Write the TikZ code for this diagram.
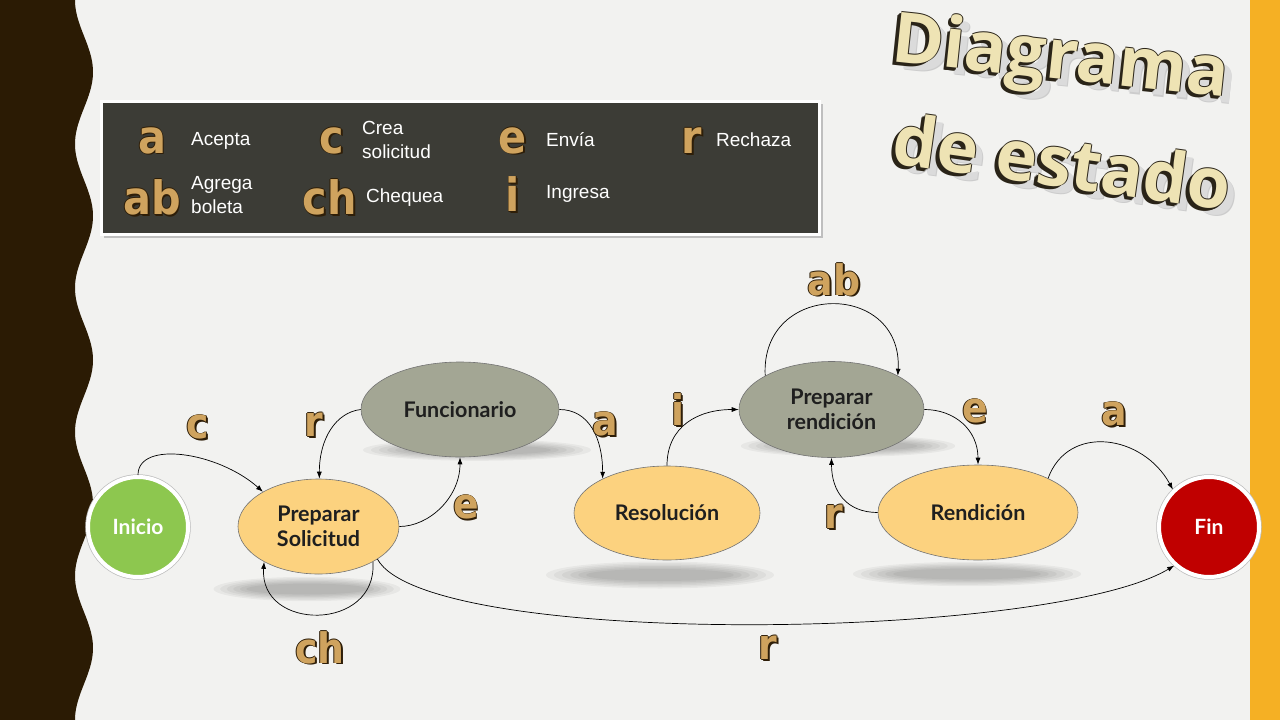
\documentclass[tikz,border=0pt]{standalone}
\usepackage{fontspec}
\setmainfont{Liberation Sans}
\newfontfamily\nodefont{Lato}
\newfontfamily\lblfont{DejaVu Sans}[FakeStretch=0.9]
\newfontfamily\titlefont{Open Sans}
\usetikzlibrary{shapes.geometric,arrows.meta}
\definecolor{bg}{HTML}{F2F2F0}
\definecolor{band}{HTML}{2B1B04}
\definecolor{orangeband}{HTML}{F5B024}
\definecolor{legbg}{HTML}{3C3C36}
\definecolor{gold}{HTML}{FCD27F}
\definecolor{sage}{HTML}{A3A694}
\definecolor{green1}{HTML}{8DC74F}
\definecolor{red1}{HTML}{C00000}
\definecolor{lbldark}{HTML}{2E1E08}
\definecolor{lblgold}{HTML}{CFA35E}
\definecolor{titleface}{HTML}{EEE3B4}
\definecolor{titleedge}{HTML}{2A2418}

\newcommand\glyphlbl[1]{%
 \leavevmode
 \rlap{\kern1.8pt\raisebox{-1.8pt}{\color{lbldark}#1}}%
 \rlap{\kern-0.8pt\color{lbldark}#1}%
 \rlap{\kern0.8pt\color{lbldark}#1}%
 \rlap{\raisebox{0.8pt}{\color{lbldark}#1}}%
 \rlap{\raisebox{-0.8pt}{\color{lbldark}#1}}%
 {\color{lblgold}#1}}

\newcommand\titletext[1]{%
 \leavevmode
 \rlap{\kern9pt\raisebox{-7pt}{\color{black!20}#1}}%
 \rlap{\kern8pt\raisebox{-6pt}{\color{black!14}#1}}%
 \rlap{\kern-3pt\raisebox{-3.5pt}{\color{titleedge}#1}}%
 \rlap{\kern-2pt\raisebox{-2.5pt}{\color{titleedge}#1}}%
 \rlap{\kern-1pt\raisebox{-1.5pt}{\color{titleedge}#1}}%
 \rlap{\kern1pt\color{titleedge}#1}%
 \rlap{\raisebox{1pt}{\color{titleedge}#1}}%
 {\color{titleface}#1}}

\newcommand\softshadow[3]{%
 \foreach \k in {1,...,6}{%
  \fill[black, opacity=0.045] (#1) ellipse ({#2*(1.22-0.08*\k)} and {#3*(1.5-0.15*\k)});}}

\begin{document}
\begin{tikzpicture}[x=1pt,y=-1pt,
  every node/.style={inner sep=0pt},
  statebox/.style={ellipse, draw=black!55, line width=0.6pt, inner sep=0pt,
    font=\nodefont\bfseries\fontsize{21.5}{25}\selectfont, text=black!88, align=center},
  goldstate/.style={statebox, fill=gold},
  sagestate/.style={statebox, fill=sage},
  endstate/.style={circle, minimum size=100pt, fill=#1, draw=white, line width=4pt,
    preaction={draw=black!25, line width=5.5pt},
    font=\nodefont\bfseries\fontsize{21}{23}\selectfont, text=white},
  lbl/.style={font=\lblfont\bfseries\fontsize{42}{42}\selectfont},
  leglbl/.style={font=\lblfont\bfseries\fontsize{46}{46}\selectfont},
  legtext/.style={anchor=west, text=white, font=\fontsize{19}{24}\selectfont, align=left},
  trans/.style={draw=black, line width=0.7pt, -{Latex[length=7pt,width=5pt]}},
  titlestyle/.style={font=\titlefont\bfseries\fontsize{70}{70}\selectfont},
]
\useasboundingbox (0,0) rectangle (1280,720);
\fill[bg] (0,0) rectangle (1280,720);
% left wavy band
\fill[band] (0,0) -- plot[domain=0:720, samples=145, smooth] ({84-9*cos(2.5*\x)}, {\x}) -- (0,720) -- cycle;
% right band
\fill[orangeband] (1250,0) rectangle (1280,720);

% legend
\fill[black!25] (104,104) rectangle (823,238);
\draw[white, line width=3pt, fill=legbg] (101,101) rectangle (819,234);
\node[leglbl] (la) at (152,141) {\glyphlbl{a}};
\node[legtext] (ta) at (191,141) {Acepta};
\node[leglbl] (lcr) at (332,141) {\glyphlbl{c}};
\node[legtext] (tcr) at (362,140) {Crea\\solicitud};
\node[leglbl] (le) at (513,141) {\glyphlbl{e}};
\node[legtext] (te) at (546,140) {Envía};
\node[leglbl] (lr) at (692,141) {\glyphlbl{r}};
\node[legtext] (tr) at (716,140) {Rechaza};
\node[leglbl] (lab) at (152,198) {\glyphlbl{ab}};
\node[legtext] (tab) at (191,195) {Agrega\\boleta};
\node[leglbl] (lch) at (330,198) {\glyphlbl{ch}};
\node[legtext] (tch) at (366,198) {Chequea};
\node[leglbl] (li) at (513,195) {\glyphlbl{i}};
\node[legtext] (ti) at (546,194) {Ingresa};

% title
\node[titlestyle, rotate=-6] (t1) at (1060,64) {\titletext{Diagrama}};
\node[titlestyle, rotate=-8] (t2) at (1062,164) {\titletext{de estado}};

% shadows
\softshadow{307,589}{82}{9}
\softshadow{477,450}{100}{8}
\softshadow{660,575}{100}{10}
\softshadow{848,446}{94}{8}
\softshadow{967,574}{100}{9}

% states
\node[endstate=green1] (ini) at (138,527) {Inicio};
\node[goldstate, minimum width=161pt, minimum height=95pt] (ps) at (318.5,526.5) {Preparar\\Solicitud};
\node[sagestate, minimum width=198pt, minimum height=95pt] (fun) at (460,409.5) {Funcionario};
\node[goldstate, minimum width=186pt, minimum height=94pt] (res) at (667,513) {Resolución};
\node[sagestate, minimum width=185pt, minimum height=96pt] (pr) at (831.5,409.5) {Preparar\\rendición};
\node[goldstate, minimum width=200pt, minimum height=95pt] (ren) at (978,512.5) {Rendición};
\node[endstate=red1] (fin) at (1209,527) {Fin};

% transitions
\draw[trans] (ini.90) .. controls +(0,-35) and +(-45,-40) .. (ps.148);
\draw[trans] (fun.180) .. controls +(-25,3) and +(0,-40) .. (ps.89);
\draw[trans] (ps.0) .. controls +(30,0) and +(0,40) .. (fun.-90);
\draw[trans] (fun.0) .. controls +(30,0) and +(0,-40) .. (res.152);
\draw[trans] (ps.-33) .. controls +(5,70) and +(-5,70) .. (ps.-147);
\draw[trans] (ps.-29) .. controls +(50,90) and +(-125,75) .. (fin.-132);
\draw[trans] (res.90) .. controls +(0,-40) and +(-40,0) .. (pr.180);
\draw[trans] (pr.153) .. controls +(-5,-95) and +(5,-95) .. (pr.27);
\draw[trans] (pr.0) .. controls +(30,0) and +(0,-35) .. (ren.90);
\draw[trans] (ren.180) .. controls +(-30,0) and +(0,35) .. (pr.-90);
\draw[trans] (ren.26) .. controls +(20,-55) and +(-30,-55) .. (fin.134);

% transition labels
\node[lbl] (mc) at (198,428) {\glyphlbl{c}};
\node[lbl] (mr1) at (314,425) {\glyphlbl{r}};
\node[lbl] (ma1) at (605,425) {\glyphlbl{a}};
\node[lbl] (me1) at (466,508) {\glyphlbl{e}};
\node[lbl] (mch) at (320,648) {\glyphlbl{ch}};
\node[lbl] (mr2) at (768,648) {\glyphlbl{r}};
\node[lbl] (mi) at (678,410) {\glyphlbl{i}};
\node[lbl] (mab) at (834,280) {\glyphlbl{ab}};
\node[lbl] (me2) at (975,412) {\glyphlbl{e}};
\node[lbl] (mr3) at (834,517) {\glyphlbl{r}};
\node[lbl] (ma2) at (1114,415) {\glyphlbl{a}};
\end{tikzpicture}
\end{document}
